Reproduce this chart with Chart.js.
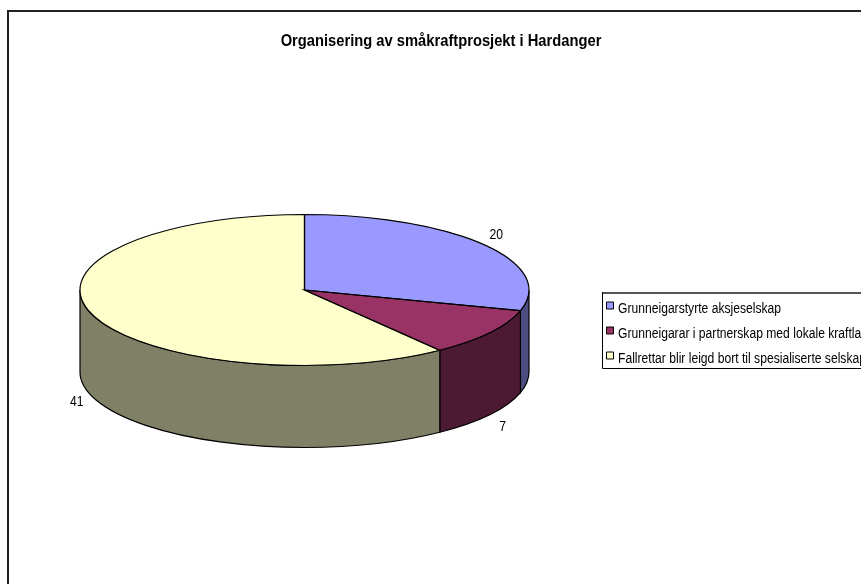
<!DOCTYPE html>
<html>
<head>
<meta charset="utf-8">
<style>html,body{margin:0;padding:0;background:#fff}canvas{display:block}</style>
<script src="https://cdn.jsdelivr.net/npm/chart.js@4/dist/chart.umd.min.js"></script>
</head>
<body>
<div style="width:861px;height:584px"><canvas id="c" width="861" height="584"></canvas></div>
<script>
const titleText = "Organisering av småkraftprosjekt i Hardanger";
const categories = ["Grunneigarstyrte aksjeselskap", "Grunneigarar i partnerskap med lokale kraftlag", "Fallrettar blir leigd bort til spesialiserte selskap"];
const values = [20, 7, 41];
const topColors = ["#9999FF", "#993366", "#FFFFCC"];
const wallColors = ["#4D4D80", "#4D1A33", "#808066"];

const FONT = '"Liberation Sans",Arial,sans-serif';
const TEXT_SQUEEZE = 0.866;
const SQUASH = 75.5 / 224.5;
const DEPTH = 82;
const LABEL_DY = [-6, 9, 4];

const canvas = document.getElementById('c');
const ctx2d = canvas.getContext('2d');
const nativeFillText = ctx2d.fillText.bind(ctx2d);
let textDx = 0, textDy = 0;
ctx2d.fillText = function (t, x, y, mw) {
  ctx2d.save();
  ctx2d.translate(x + textDx, 0);
  ctx2d.scale(TEXT_SQUEEZE, 1);
  if (mw === undefined) nativeFillText(t, 0, y + textDy);
  else nativeFillText(t, 0, y + textDy, mw);
  ctx2d.restore();
};

const pie3d = {
  id: 'pie3d',
  beforeDraw(chart) {
    const { ctx } = chart;
    ctx.save();
    ctx.fillStyle = '#fff';
    ctx.fillRect(0, 0, chart.width, chart.height);
    ctx.strokeStyle = '#222';
    ctx.lineWidth = 2;
    ctx.beginPath();
    ctx.moveTo(8, 584); ctx.lineTo(8, 11); ctx.lineTo(861, 11);
    ctx.stroke();
    ctx.strokeStyle = '#555';
    ctx.beginPath();
    ctx.moveTo(602, 293); ctx.lineTo(861, 293);
    ctx.stroke();
    ctx.lineWidth = 1;
    ctx.strokeStyle = '#000';
    ctx.beginPath();
    ctx.moveTo(602.5, 292); ctx.lineTo(602.5, 368.5); ctx.lineTo(861, 368.5);
    ctx.stroke();
    ctx.restore();
  },
  afterLayout(chart) {
    const t = chart.titleBlock;
    t.left = 0; t.right = 882;
    const l = chart.legend;
    l.left = 595.5; l.top = 287.5; l.right = 1100; l.bottom = 380;
    if (!l._wrapped) {
      l._wrapped = true;
      const draw = l.draw.bind(l);
      l.draw = function (area) {
        textDx = -2.5; textDy = 3.5;
        draw(area);
        textDx = 0; textDy = 0;
      };
    }
  },
  beforeDatasetsDraw(chart) {
    const { ctx } = chart;
    const arcs = chart.getDatasetMeta(0).data;
    ctx.save();
    arcs.forEach((a, i) => {
      const p = a.getProps(['x', 'y', 'startAngle', 'endAngle', 'outerRadius'], true);
      const a0 = Math.max(p.startAngle, 0), a1 = Math.min(p.endAngle, Math.PI);
      if (a1 <= a0) return;
      const r = p.outerRadius, ry = r * SQUASH;
      ctx.beginPath();
      ctx.ellipse(p.x, p.y, r, ry, 0, a0, a1);
      ctx.ellipse(p.x, p.y + DEPTH, r, ry, 0, a1, a0, true);
      ctx.closePath();
      ctx.fillStyle = wallColors[i];
      ctx.fill();
      ctx.strokeStyle = '#000';
      ctx.lineWidth = 1.2;
      ctx.stroke();
    });
    ctx.restore();
    const c = arcs[0];
    ctx.save();
    ctx.translate(c.x, c.y);
    ctx.scale(1, SQUASH);
    ctx.translate(-c.x, -c.y);
  },
  afterDatasetsDraw(chart) {
    const { ctx } = chart;
    ctx.restore();
    const arcs = chart.getDatasetMeta(0).data;
    ctx.save();
    ctx.strokeStyle = '#000';
    ctx.lineWidth = 1.2;
    arcs.forEach((a) => {
      const p = a.getProps(['x', 'y', 'startAngle', 'endAngle', 'outerRadius'], true);
      ctx.beginPath();
      ctx.moveTo(p.x, p.y);
      ctx.ellipse(p.x, p.y, p.outerRadius, p.outerRadius * SQUASH, 0, p.startAngle, p.endAngle);
      ctx.closePath();
      ctx.stroke();
    });
    ctx.fillStyle = '#000';
    ctx.font = '14px ' + FONT;
    ctx.textAlign = 'center';
    ctx.textBaseline = 'middle';
    arcs.forEach((a, i) => {
      const p = a.getProps(['x', 'y', 'startAngle', 'endAngle', 'outerRadius'], true);
      const m = (p.startAngle + p.endAngle) / 2;
      const x = p.x + Math.cos(m) * p.outerRadius * 1.07;
      let y = p.y + Math.sin(m) * p.outerRadius * 1.07 * SQUASH;
      if (Math.sin(m) > 0) y += DEPTH;
      ctx.fillText(String(values[i]), x, y + LABEL_DY[i]);
    });
    ctx.restore();
  }
};

new Chart(canvas, {
  type: 'pie',
  data: {
    labels: categories,
    datasets: [{ data: values, backgroundColor: topColors, borderWidth: 0 }]
  },
  plugins: [pie3d],
  options: {
    responsive: false,
    animation: false,
    layout: { padding: { left: 80, right: 332, top: 10, bottom: 69.5 } },
    plugins: {
      tooltip: { enabled: false },
      title: {
        display: true, text: titleText, color: '#000',
        font: { family: FONT, size: 17, weight: 'bold', lineHeight: 1.2 },
        padding: { top: 21, bottom: 14.1 }
      },
      legend: {
        position: 'chartArea',
        align: 'start',
        labels: {
          color: '#000',
          font: { family: FONT, size: 14 },
          boxWidth: 7, boxHeight: 7,
          padding: 11,
          generateLabels(chart) {
            return Chart.controllers.pie.overrides.plugins.legend.labels.generateLabels(chart)
              .map(it => Object.assign(it, { lineWidth: 1, strokeStyle: '#000' }));
          }
        }
      }
    }
  }
});
</script>
</body>
</html>
